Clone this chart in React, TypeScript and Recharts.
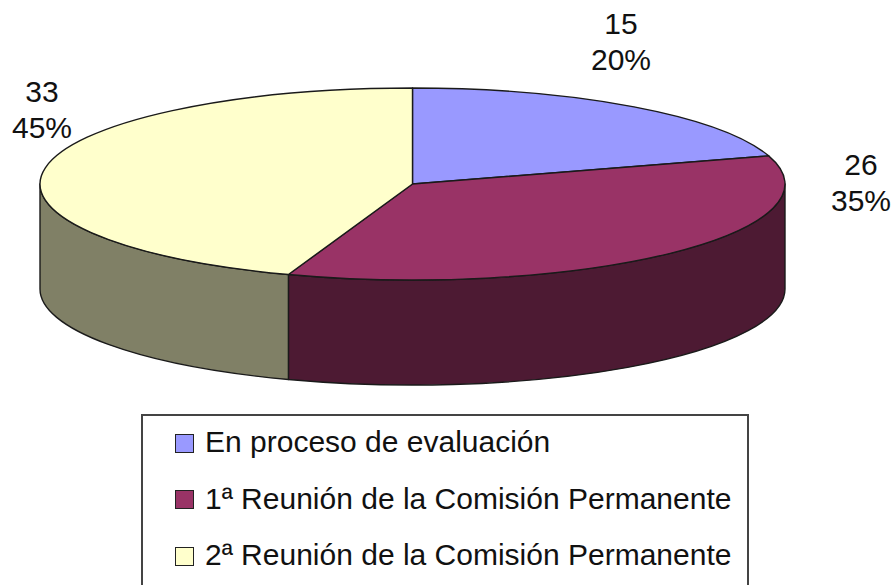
import { Legend, Pie, PieChart } from "recharts";

const categories = [
  "En proceso de evaluación",
  "1ª Reunión de la Comisión Permanente",
  "2ª Reunión de la Comisión Permanente",
];
const counts = [15, 26, 33];
const topColors = ["#9999ff", "#993366", "#ffffcc"];
const wallColors = ["#4d4d80", "#4d1a33", "#808066"];

// where each data label sits relative to the pie centre
const labelOffsets = [
  { dx: 208.5, dy: -141 },
  { dx: 448.5, dy: 0 },
  { dx: -370.5, dy: -73 },
];

const tableData = categories.map((name, i) => ({
  name,
  value: counts[i],
  fill: topColors[i],
  wall: wallColors[i],
}));

const FONT = '"Liberation Sans", Arial, sans-serif';
const CX = 412.5;
const CY = 184;
const RX = 372.5;
const RY = 96;
const DEPTH = 105;
const OUTLINE = "#1a1a1a";

const px = (deg: number) => CX + RX * Math.cos((deg * Math.PI) / 180);
const py = (deg: number) => CY - RY * Math.sin((deg * Math.PI) / 180);

function TopFace(props: any) {
  const { startAngle, endAngle, fill } = props;
  const large = Math.abs(startAngle - endAngle) > 180 ? 1 : 0;
  const d = `M${CX},${CY} L${px(startAngle)},${py(startAngle)} A${RX},${RY} 0 ${large} 1 ${px(endAngle)},${py(endAngle)} Z`;
  return <path d={d} fill={fill} stroke={OUTLINE} strokeWidth={1.4} strokeLinejoin="round" />;
}

function SideWall(props: any) {
  const { startAngle, endAngle, payload } = props;
  // only the front half of the rim shows, angles run clockwise from 90
  let a = startAngle;
  let b = endAngle;
  if (b >= 0) return null;
  if (a > 0) a = 0;
  if (b < -180) b = -180;
  if (a <= b) return null;
  const large = a - b > 180 ? 1 : 0;
  const d =
    `M${px(a)},${py(a)} A${RX},${RY} 0 ${large} 1 ${px(b)},${py(b)} ` +
    `L${px(b)},${py(b) + DEPTH} A${RX},${RY} 0 ${large} 0 ${px(a)},${py(a) + DEPTH} Z`;
  return <path d={d} fill={payload.wall} stroke={OUTLINE} strokeWidth={1.4} strokeLinejoin="round" />;
}

function renderLabel(props: any) {
  const { index, value, percent } = props;
  const x = CX + labelOffsets[index].dx;
  const y = CY + labelOffsets[index].dy;
  return (
    <text x={x} textAnchor="middle" fontFamily={FONT} fontSize={30} fill="#111">
      <tspan x={x} y={y - 9}>
        {value}
      </tspan>
      <tspan x={x} y={y + 27}>
        {Math.round(percent * 100)}%
      </tspan>
    </text>
  );
}

function LegendBox() {
  return (
    <div
      style={{
        boxSizing: "border-box",
        width: 608,
        height: 190,
        border: "2px solid #444",
        background: "#fff",
        fontFamily: FONT,
        fontSize: 30,
        color: "#111",
      }}
    >
      {tableData.map((d) => (
        <div key={d.name} style={{ display: "flex", alignItems: "center", height: 56.5, paddingLeft: 32 }}>
          <span
            style={{
              boxSizing: "border-box",
              width: 19,
              height: 19,
              marginRight: 11,
              background: d.fill,
              border: "1.5px solid #222",
              position: "relative",
              top: -1,
            }}
          />
          <span style={{ whiteSpace: "nowrap", position: "relative", top: -2 }}>{d.name}</span>
        </div>
      ))}
    </div>
  );
}

export default function App() {
  return (
    <div style={{ position: "absolute", left: 0, top: 0, width: 893, height: 585, overflow: "hidden", background: "#fff" }}>
      <PieChart width={893} height={585} margin={{ top: 0, right: 0, bottom: 0, left: 0 }}>
        <Pie
          data={tableData}
          dataKey="value"
          nameKey="name"
          cx={CX}
          cy={CY}
          outerRadius={RX}
          startAngle={90}
          endAngle={-270}
          shape={SideWall}
          legendType="none"
          isAnimationActive={false}
        />
        <Pie
          data={tableData}
          dataKey="value"
          nameKey="name"
          cx={CX}
          cy={CY}
          outerRadius={RX}
          startAngle={90}
          endAngle={-270}
          shape={TopFace}
          label={renderLabel}
          labelLine={false}
          isAnimationActive={false}
        />
        <Legend
          content={LegendBox}
          wrapperStyle={{ position: "absolute", left: 141, top: 414, width: 608, height: 190, margin: 0 }}
        />
      </PieChart>
    </div>
  );
}
